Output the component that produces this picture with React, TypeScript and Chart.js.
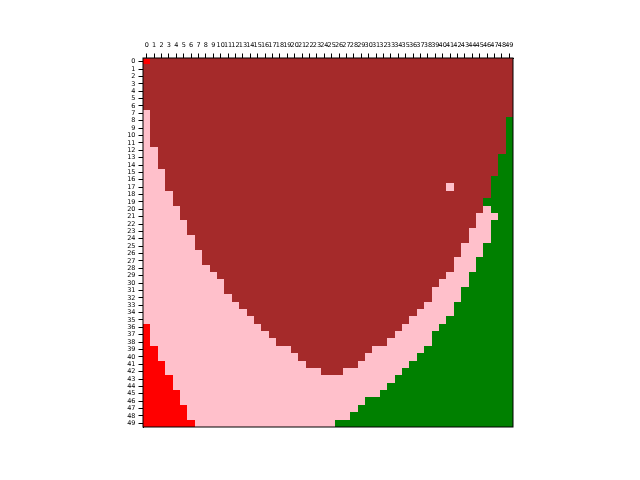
import React, { useEffect, useRef } from "react";
import { Chart, registerables } from "chart.js";

Chart.register(...registerables);

const rowLabels: string[] = Array.from({ length: 50 }, (_, i) => String(i));
const colLabels: string[] = Array.from({ length: 50 }, (_, i) => String(i));

// number of red cells at the left of each row
const redEnd: number[] = [
  0, 0, 0, 0, 0, 0, 0, 0, 0, 0,
  0, 0, 0, 0, 0, 0, 0, 0, 0, 0,
  0, 0, 0, 0, 0, 0, 0, 0, 0, 0,
  0, 0, 0, 0, 0, 0, 1, 1, 1, 2,
  2, 3, 3, 4, 4, 5, 5, 6, 6, 7,
];
// first brown column of each row (null = no brown)
const brownStart: (number | null)[] = [
  0, 0, 0, 0, 0, 0, 0, 1, 1, 1,
  1, 1, 2, 2, 2, 3, 3, 3, 4, 4,
  5, 5, 6, 6, 7, 7, 8, 8, 9, 10,
  11, 11, 12, 13, 14, 15, 16, 17, 18, 20,
  21, 22, 24, null, null, null, null, null, null, null,
];
// column after the last brown cell of each row
const brownEnd: (number | null)[] = [
  50, 50, 50, 50, 50, 50, 50, 50, 49, 49,
  49, 49, 49, 48, 48, 48, 47, 47, 47, 46,
  46, 45, 45, 44, 44, 43, 43, 42, 42, 41,
  40, 39, 39, 38, 37, 36, 35, 34, 33, 31,
  30, 29, 27, null, null, null, null, null, null, null,
];
// first green column of each row (50 = no green)
const greenStart: number[] = [
  50, 50, 50, 50, 50, 50, 50, 50, 49, 49,
  49, 49, 49, 48, 48, 48, 47, 47, 47, 46,
  47, 48, 47, 47, 47, 46, 46, 45, 45, 44,
  44, 43, 43, 42, 42, 41, 40, 39, 39, 38,
  37, 36, 35, 34, 33, 32, 30, 29, 28, 26,
];
// isolated pink cell inside the brown area: [row, col]
const pinkCells: [number, number][] = [[17, 41]];
// small red mark at the top-left corner: [row, col]
const redMarks: [number, number][] = [[0, 0]];

const RED = "#ff0000";
const PINK = "#ffc0cb";
const BROWN = "#a52a2a";
const GREEN = "#008000";

const seg = (a: number, b: number): [number, number] | null =>
  b > a ? [a - 0.5, b - 0.5] : null;

export default function App() {
  const ref = useRef<HTMLCanvasElement | null>(null);
  useEffect(() => {
    if (!ref.current) return;
    const redData = rowLabels.map((_, i) => seg(0, redEnd[i]));
    const pinkLeft = rowLabels.map((_, i) =>
      seg(redEnd[i], brownStart[i] ?? greenStart[i])
    );
    const brown = rowLabels.map((_, i) =>
      brownStart[i] == null ? null : seg(brownStart[i] as number, brownEnd[i] as number)
    );
    const pinkRight = rowLabels.map((_, i) =>
      brownEnd[i] == null ? null : seg(brownEnd[i] as number, greenStart[i])
    );
    const green = rowLabels.map((_, i) => seg(greenStart[i], 50));
    const cellsData = (cells: [number, number][]) =>
      rowLabels.map((_, i) => {
        const c = cells.find((p) => p[0] === i);
        return c ? seg(c[1], c[1] + 1) : null;
      });
    const mk = (data: any[], color: string, pct = 1) => ({
      data,
      backgroundColor: color,
      borderWidth: 0,
      borderSkipped: false,
      barPercentage: pct,
      categoryPercentage: 1,
      grouped: false,
      inflateAmount: 0,
    });
    const snapPlugin = {
      id: "snap",
      beforeDatasetsDraw(chart: any) {
        const ys = chart.scales.y;
        chart.data.datasets.forEach((ds: any, di: number) => {
          const meta = chart.getDatasetMeta(di);
          const full = ds.barPercentage === 1;
          meta.data.forEach((el: any, j: number) => {
            if (!isFinite(el.x) || !isFinite(el.base) || !isFinite(el.y)) return;
            let t: number, b: number;
            if (full) {
              t = Math.round(ys.getPixelForValue(j - 0.5));
              b = Math.round(ys.getPixelForValue(j + 0.5));
            } else {
              t = Math.round(el.y - el.height / 2);
              b = Math.round(el.y + el.height / 2);
            }
            el.y = (t + b) / 2;
            el.height = b - t;
            const l = Math.round(Math.min(el.x, el.base));
            const r = Math.round(Math.max(el.x, el.base));
            el.x = r;
            el.base = l;
            el.width = r - l;
          });
        });
      },
    };
    const framePlugin = {
      id: "frame",
      afterDraw(chart: any) {
        const { ctx, chartArea: a } = chart;
        ctx.save();
        ctx.strokeStyle = "#000";
        ctx.lineWidth = 1;
        ctx.strokeRect(a.left, a.top, a.right - a.left, a.bottom - a.top);
        ctx.restore();
      },
    };
    const font = { family: "DejaVu Sans", size: 6.5 };
    const chart = new Chart(ref.current, {
      type: "bar",
      data: {
        labels: rowLabels,
        datasets: [
          mk(cellsData(redMarks), RED, 0.6),
          mk(cellsData(pinkCells), PINK),
          mk(redData, RED),
          mk(pinkLeft, PINK),
          mk(brown, BROWN),
          mk(pinkRight, PINK),
          mk(green, GREEN),
        ] as any,
      },
      options: {
        indexAxis: "y",
        animation: false,
        responsive: false,
        maintainAspectRatio: false,
        layout: { padding: { left: 0, top: 0, right: 127, bottom: 53 } },
        plugins: { legend: { display: false }, tooltip: { enabled: false } },
        scales: {
          x: {
            type: "linear",
            position: "top",
            min: -0.5,
            max: 49.5,
            afterBuildTicks: (scale: any) => {
              scale.ticks = colLabels.map((_, i) => ({ value: i }));
            },
            afterFit: (scale: any) => {
              scale.height = 58;
            },
            ticks: {
              autoSkip: false,
              maxRotation: 0,
              minRotation: 0,
              padding: 4,
              color: "#000",
              font,
              callback: (v: any) => colLabels[Number(v)] ?? "",
            },
            grid: {
              drawOnChartArea: false,
              drawTicks: true,
              tickLength: 4.5,
              color: "#000",
            },
            border: { display: true, color: "#000" },
          },
          y: {
            type: "category",
            position: "left",
            afterFit: (scale: any) => {
              scale.width = 143;
            },
            ticks: {
              autoSkip: false,
              padding: 3,
              color: "#000",
              font,
            },
            grid: {
              drawOnChartArea: false,
              drawTicks: true,
              tickLength: 4.5,
              color: "#000",
              offset: false,
            },
            border: { display: true, color: "#000" },
          },
        },
      } as any,
      plugins: [snapPlugin, framePlugin],
    });
    return () => chart.destroy();
  }, []);
  return (
    <div style={{ position: "fixed", left: 0, top: 0, width: 640, height: 480, background: "#fff" }}>
      <canvas ref={ref} width={640} height={480} style={{ width: 640, height: 480 }} />
    </div>
  );
}
